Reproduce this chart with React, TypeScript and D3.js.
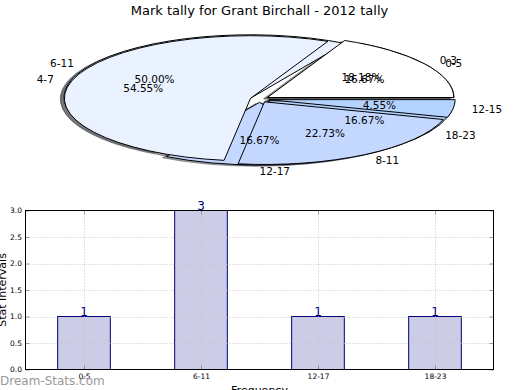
import { useEffect, useRef } from "react";
import * as d3 from "d3";

// two overlaid pies (same angles start at 3 o'clock, counter-clockwise)
const pieALabels = ["0-5", "6-11", "12-17", "18-23"];
const pieAValues = [1, 3, 1, 1];
const pieBLabels = ["0-3", "4-7", "8-11", "12-15"];
const pieBValues = [4, 12, 5, 1];
const sliceColors = ["#ffffff", "#ebf2ff", "#c4d8ff", "#b4d4ff"];

// bar chart
const barLabels = ["0-5", "6-11", "12-17", "18-23"];
const barValues = [1, 3, 1, 1];
const yTickValues = [0, 0.5, 1, 1.5, 2, 2.5, 3];

const title = "Mark tally for Grant Birchall - 2012 tally";

export default function App() {
  const svgRef = useRef<SVGSVGElement>(null);

  useEffect(() => {
    const width = 520, height = 390;
    const font = "'DejaVu Sans', sans-serif";

    d3.select(svgRef.current).selectAll("*").remove();
    const svg = d3.select(svgRef.current)
      .attr("width", width)
      .attr("height", height)
      .style("font-family", font);

    // title
    svg.append("text")
      .attr("x", 259.5)
      .attr("y", 15)
      .attr("text-anchor", "middle")
      .style("font-size", "13px")
      .text(title);

    // ---- pie (squashed, exploded, with shadow) ----
    const cx = 259.5, cy = 99.2, rx = 186.4, ry = 62.65;
    const explode = 0.05;
    const pie = d3.pie<number>()
      .sort(null)
      .startAngle(Math.PI / 2)
      .endAngle(Math.PI / 2 - 2 * Math.PI);
    const arc = d3.arc<d3.PieArcDatum<number>>().innerRadius(0).outerRadius(1);

    const pies = [
      { labels: pieALabels, arcs: pie(pieAValues), total: d3.sum(pieAValues) },
      { labels: pieBLabels, arcs: pie(pieBValues), total: d3.sum(pieBValues) },
    ];

    const shadowG = svg.append("g");
    const wedgeG = svg.append("g");
    const textG = svg.append("g").style("font-size", "10.5px");

    pies.forEach(p => {
      p.arcs.forEach((a, i) => {
        const m = (a.startAngle + a.endAngle) / 2;
        const sx = Math.sin(m), sy = -Math.cos(m);
        const ox = cx + explode * rx * sx, oy = cy + explode * ry * sy;
        const c = d3.rgb(sliceColors[i]);
        const sc = `rgba(${c.r * 0.3},${c.g * 0.3},${c.b * 0.3},0.5)`;

        shadowG.append("path")
          .attr("d", arc(a))
          .attr("transform", `translate(${ox - 0.02 * rx},${oy + 0.02 * ry}) scale(${rx},${ry})`)
          .attr("fill", sc)
          .attr("stroke", sc)
          .attr("stroke-width", 1)
          .attr("vector-effect", "non-scaling-stroke");

        wedgeG.append("path")
          .attr("d", arc(a))
          .attr("transform", `translate(${ox},${oy}) scale(${rx},${ry})`)
          .attr("fill", sliceColors[i])
          .attr("stroke", "#000")
          .attr("stroke-width", 1)
          .attr("stroke-linejoin", "round")
          .attr("vector-effect", "non-scaling-stroke");

        textG.append("text")
          .attr("x", ox + 1.1 * rx * sx)
          .attr("y", oy + 1.1 * ry * sy)
          .attr("text-anchor", sx > -1e-6 ? "start" : "end")
          .attr("dominant-baseline", "central")
          .text(p.labels[i]);

        textG.append("text")
          .attr("x", ox + 0.6 * rx * sx)
          .attr("y", oy + 0.6 * ry * sy)
          .attr("text-anchor", "middle")
          .attr("dominant-baseline", "central")
          .text((a.data / p.total * 100).toFixed(2) + "%");
      });
    });

    // ---- bar chart ----
    const left = 25.5, right = 493.5, top = 210.5, bottom = 369.5;
    const x = d3.scaleLinear().domain([-0.5, 3.5]).range([left, right]);
    const y = d3.scaleLinear().domain([0, 3]).range([bottom, top]);
    const barW = 0.45;

    const g = svg.append("g");

    g.selectAll("rect.bar")
      .data(barValues)
      .join("rect")
        .attr("class", "bar")
        .attr("x", (d, i) => x(i - barW / 2))
        .attr("y", d => y(d))
        .attr("width", x(barW) - x(0))
        .attr("height", d => y(0) - y(d))
        .attr("fill", "#ccccE6")
        .attr("stroke", "navy")
        .attr("stroke-width", 1);

    // dotted grid (drawn over the bars)
    g.append("g")
      .selectAll("line")
      .data(yTickValues.slice(1, -1))
      .join("line")
        .attr("x1", left).attr("x2", right)
        .attr("y1", d => Math.round(y(d)) + 0.5)
        .attr("y2", d => Math.round(y(d)) + 0.5)
        .attr("stroke", "#c4c4c4")
        .attr("stroke-dasharray", "1,2");
    g.append("g")
      .selectAll("line")
      .data(barValues.map((d, i) => i))
      .join("line")
        .attr("x1", d => Math.round(x(d)) + 0.5)
        .attr("x2", d => Math.round(x(d)) + 0.5)
        .attr("y1", top).attr("y2", bottom)
        .attr("stroke", "#c4c4c4")
        .attr("stroke-dasharray", "1,2");

    // axes with inward ticks
    const yAxis = g.append("g")
      .attr("transform", `translate(${left},0)`)
      .call(d3.axisLeft(y).tickValues(yTickValues).tickFormat(d3.format(".1f")).tickSizeInner(-4).tickSizeOuter(0).tickPadding(3.5));
    const xAxis = g.append("g")
      .attr("transform", `translate(0,${bottom})`)
      .call(d3.axisBottom(x).tickValues([0, 1, 2, 3]).tickFormat(i => barLabels[i as number]).tickSizeInner(-4).tickSizeOuter(0).tickPadding(4));
    g.append("g")
      .attr("transform", `translate(${right},0)`)
      .call(d3.axisRight(y).tickValues(yTickValues).tickFormat(() => "").tickSizeInner(-4).tickSizeOuter(0));
    g.append("g")
      .attr("transform", `translate(0,${top})`)
      .call(d3.axisTop(x).tickValues([0, 1, 2, 3]).tickFormat(() => "").tickSizeInner(-4).tickSizeOuter(0));

    g.selectAll(".domain").remove();
    g.selectAll(".tick line").attr("stroke", "#777").attr("stroke-width", 0.7);
    [yAxis, xAxis].forEach(ax => ax.selectAll("text")
      .style("font-family", font)
      .style("font-size", "7.5px")
      .attr("fill", "#000"));

    g.append("rect")
      .attr("x", left).attr("y", top)
      .attr("width", right - left).attr("height", bottom - top)
      .attr("fill", "none")
      .attr("stroke", "#000")
      .attr("stroke-width", 1);

    // value labels
    g.selectAll("text.val")
      .data(barValues)
      .join("text")
        .attr("class", "val")
        .attr("x", (d, i) => x(i))
        .attr("y", d => y(d) - 0.5)
        .attr("text-anchor", "middle")
        .attr("fill", "navy")
        .style("font-size", "12px")
        .text(d => d);

    // axis labels
    svg.append("text")
      .attr("transform", `translate(6,${(top + bottom) / 2}) rotate(-90)`)
      .attr("text-anchor", "middle")
      .style("font-size", "11px")
      .text("Stat Intervals");

    svg.append("text")
      .attr("x", (left + right) / 2)
      .attr("y", 394)
      .attr("text-anchor", "middle")
      .style("font-size", "11px")
      .text("Frequency");

    // watermark
    svg.append("text")
      .attr("x", 0)
      .attr("y", 385)
      .attr("fill", "#999")
      .style("font-size", "12px")
      .text("Dream-Stats.com");
  }, []);

  return <svg ref={svgRef} style={{ position: "absolute", left: 0, top: 0 }}></svg>;
}
